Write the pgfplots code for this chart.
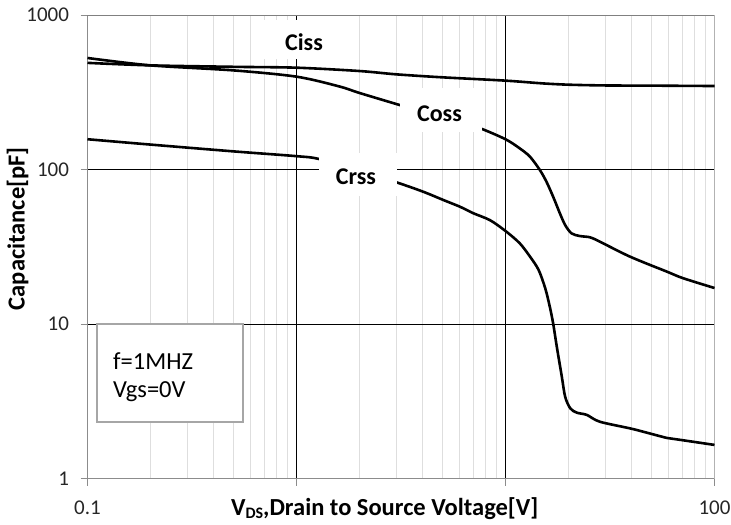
\documentclass[border=0pt]{standalone}
\usepackage{fontspec}
\setmainfont{Carlito}
\usepackage{pgfplots}
\pgfplotsset{compat=1.18}
\begin{document}
\begin{tikzpicture}
\begin{axis}[
  scale only axis, width=627pt, height=463.5pt,
  xmode=log, ymode=log, xmin=0.1, xmax=100, ymin=1, ymax=1000,
  xtick={0.1,1,10,100}, xticklabels={0.1,,,100},
  ytick={1,10,100,1000}, yticklabels={1,10,100,1000},
  minor xtick={0.2,0.3,0.4,0.5,0.6,0.7,0.8,0.9,2,3,4,5,6,7,8,9,20,30,40,50,60,70,80,90},
  xmajorgrids=true, ymajorgrids=true, xminorgrids=true, yminorgrids=false,
  major grid style={black, line width=0.8pt},
  minor grid style={black!13, line width=0.8pt},
  axis x line=bottom, axis y line=left,
  axis line style={-, draw=black!45, line width=0.9pt},
  tick align=outside, major tick length=7pt, minor tick length=0pt,
  tick style={black!45, line width=0.9pt},
  /pgf/number format/assume math mode=true,
  ticklabel style={font=\fontsize{21}{25}\selectfont, text=black!85},
  xticklabel style={yshift=-12pt},
  yticklabel style={xshift=-8pt},
  clip=false,
]
\draw[black!50, line width=0.9pt] (rel axis cs:0,1) -- (rel axis cs:1,1);
\draw[black!30, line width=0.9pt] (rel axis cs:1,0) -- (rel axis cs:1,1);
\addplot[black, line width=2.6pt, smooth] coordinates {
(0.1,490) (0.2,472) (0.5,462) (1,456) (2,434) (3,413) (5,395) (10,376) (15,361) (20,354) (30,350) (50,349) (100,347)};
\addplot[black, line width=2.6pt, smooth] coordinates {
(0.1,527) (0.2,472) (0.5,438) (1,399) (1.6,345) (2,313) (3.1,262) (4.5,226) (6,202) (7.55,185) (10,157) (11.7,137) (13.1,121) (14.6,99.3) (15.7,83.4) (16.9,66.7) (18.2,52.1) (19.3,43.7) (20.7,38.6) (22.7,37.1) (25.4,36.4) (28.3,34.1) (39.4,27.3) (59.3,21.8) (70.7,19.8) (100,17.1)};
\addplot[black, line width=2.6pt, smooth] coordinates {
(0.1,157) (0.2,145) (0.5,131) (1,122) (1.28,117) (2,98) (3.04,82.2) (4.04,71.8) (5.04,63.5) (6.06,57.4) (7.02,52.1) (8.43,47) (10,40) (11.7,33.3) (13.1,27.3) (14.4,22.4) (15.5,17) (16.3,12.9) (16.9,10.1) (17.6,7.13) (18.6,4.56) (19.3,3.38) (20.4,2.85) (21.9,2.67) (24.5,2.58) (28.3,2.33) (40.7,2.09) (59.3,1.83) (68.4,1.78) (100,1.65)};
% label boxes
\fill[white] (rel axis cs:0.2783,0.9892) rectangle (rel axis cs:0.4107,0.9051);
\fill[white] (rel axis cs:0.4984,0.8425) rectangle (rel axis cs:0.6292,0.7476);
\fill[white] (rel axis cs:0.3692,0.7023) rectangle (rel axis cs:0.4936,0.6095);
\node[font=\bfseries\fontsize{24}{28}\selectfont] at (rel axis cs:0.3453,0.9417) {Ciss};
\node[font=\bfseries\fontsize{24}{28}\selectfont] at (rel axis cs:0.5614,0.7862) {Coss};
\node[font=\bfseries\fontsize{24}{28}\selectfont] at (rel axis cs:0.4282,0.6505) {Crss};
% condition box
\filldraw[fill=white, draw=black!35, line width=1.4pt] (rel axis cs:0.01515,0.3333) rectangle (rel axis cs:0.248,0.1219);
\node[anchor=base west, font=\fontsize{24.5}{28}\selectfont, inner sep=0pt] at (rel axis cs:0.0407,0.235) {f=1MHZ};
\node[anchor=base west, font=\fontsize{24.5}{28}\selectfont, inner sep=0pt] at (rel axis cs:0.0407,0.1737) {Vgs=0V};
% axis labels
\node[anchor=base, font=\bfseries\fontsize{24.5}{28}\selectfont, inner sep=0pt] at (rel axis cs:0.474,-0.0795) {V\raisebox{-3pt}{\fontsize{16}{18}\selectfont DS},Drain to Source Voltage[V]};
\node[font=\bfseries\fontsize{24.5}{28}\selectfont, rotate=90, inner sep=0pt] at (rel axis cs:-0.1116,0.539) {Capacitance[pF]};
\end{axis}
\pgfresetboundingbox
\path[use as bounding box] ([shift={(-87.5pt,-45.5pt)}]current axis.south west) rectangle ([shift={(16.5pt,15pt)}]current axis.north east);
\end{tikzpicture}
\end{document}
